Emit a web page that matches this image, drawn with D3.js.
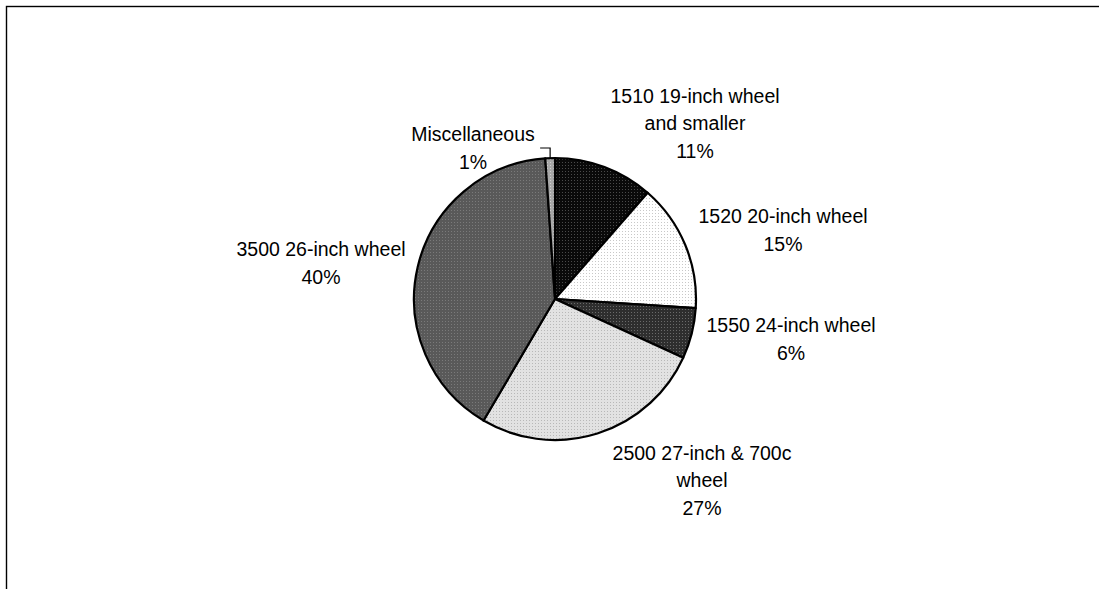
<!DOCTYPE html>
<html>
<head>
<meta charset="utf-8">
<script src="https://cdn.jsdelivr.net/npm/d3@7"></script>
<style>
  html, body { margin: 0; padding: 0; background: #fff; }
  svg { display: block; }
  text { font-family: "Liberation Sans", Arial, sans-serif; fill: #000; }
</style>
</head>
<body>
<svg id="chart" width="1099" height="589"></svg>
<script>
// Bicycle tire shipments by wheel size (share of total)
const categories = [
  "1510 19-inch wheel and smaller",
  "1520 20-inch wheel",
  "1550 24-inch wheel",
  "2500 27-inch & 700c wheel",
  "3500 26-inch wheel",
  "Miscellaneous"
];
const shares = [11.4, 14.6, 5.8, 26.6, 40.4, 1.1];

// Fill textures: base colour and dot colour for each slice
const baseColors = ["#0a0a0a", "#ffffff", "#2e2e2e", "#e2e2e2", "#595959", "#a8a8a8"];
const dotColors  = ["#4a4a4a", "#c8c8c8", "#6a6a6a", "#b8b8b8", "#7a7a7a", "#d0d0d0"];

// Label block centres, relative to the pie centre
const labelOffsets = [[140, -176], [228, -69], [236, 40], [147, 181], [-234, -36], [-82, -151]];

const W = 1099, H = 589;
const cx = 555, cy = 299, radius = 141;
const fontSize = 19.5, lineGap = 27.5, wrapWidth = 200;

const svg = d3.select("#chart");

// Chart area frame (runs off the right and bottom edges)
svg.append("rect")
  .attr("x", 6.5).attr("y", 6.5)
  .attr("width", W + 20).attr("height", H + 20)
  .attr("fill", "none").attr("stroke", "#000").attr("stroke-width", 1.4);

const defs = svg.append("defs");
baseColors.forEach((c, i) => {
  const p = defs.append("pattern")
    .attr("id", "tex" + i)
    .attr("patternUnits", "userSpaceOnUse")
    .attr("width", 3).attr("height", 3);
  p.append("rect").attr("width", 3).attr("height", 3).attr("fill", c);
  p.append("rect").attr("x", 1).attr("y", 1).attr("width", 1).attr("height", 1).attr("fill", dotColors[i]);
});

const pie = d3.pie().sort(null).value(d => d).startAngle(0).endAngle(2 * Math.PI);
const arcs = pie(shares);
const total = d3.sum(shares);
const arc = d3.arc().innerRadius(0).outerRadius(radius);

const g = svg.append("g").attr("transform", `translate(${cx},${cy})`);

g.selectAll("path.slice")
  .data(arcs)
  .join("path")
  .attr("class", "slice")
  .attr("d", arc)
  .attr("fill", (d, i) => `url(#tex${i})`)
  .attr("stroke", "#000")
  .attr("stroke-width", 2.2)
  .attr("stroke-linejoin", "round");

// Word-wrap a label to the available width
const measurer = svg.append("text").attr("font-size", fontSize).attr("visibility", "hidden");
function wrap(str) {
  const words = str.split(" ");
  const lines = [];
  let cur = "";
  words.forEach(w => {
    const trial = cur ? cur + " " + w : w;
    measurer.text(trial);
    if (cur && measurer.node().getComputedTextLength() > wrapWidth) {
      lines.push(cur);
      cur = w;
    } else {
      cur = trial;
    }
  });
  if (cur) lines.push(cur);
  return lines;
}

const fmt = d3.format(".0%");
arcs.forEach((d, i) => {
  const lines = wrap(categories[i]).concat([fmt(d.value / total)]);
  const [ox, oy] = labelOffsets[i];
  const t = g.append("text")
    .attr("text-anchor", "middle")
    .attr("font-size", fontSize);
  lines.forEach((ln, k) => {
    t.append("tspan")
      .attr("x", ox)
      .attr("y", oy + (k - (lines.length - 1) / 2) * lineGap)
      .attr("dominant-baseline", "central")
      .text(ln);
  });
});
measurer.remove();

// Leader line for the smallest slice
const last = arcs[arcs.length - 1];
const mid = (last.startAngle + last.endAngle) / 2;
const sx = Math.sin(mid) * radius, sy = -Math.cos(mid) * radius;
const elbowY = -radius - 10;
g.append("path")
  .attr("d", d3.line()([[sx, sy], [sx, elbowY], [sx - 10, elbowY]]))
  .attr("fill", "none")
  .attr("stroke", "#000")
  .attr("stroke-width", 1.2);
</script>
</body>
</html>
